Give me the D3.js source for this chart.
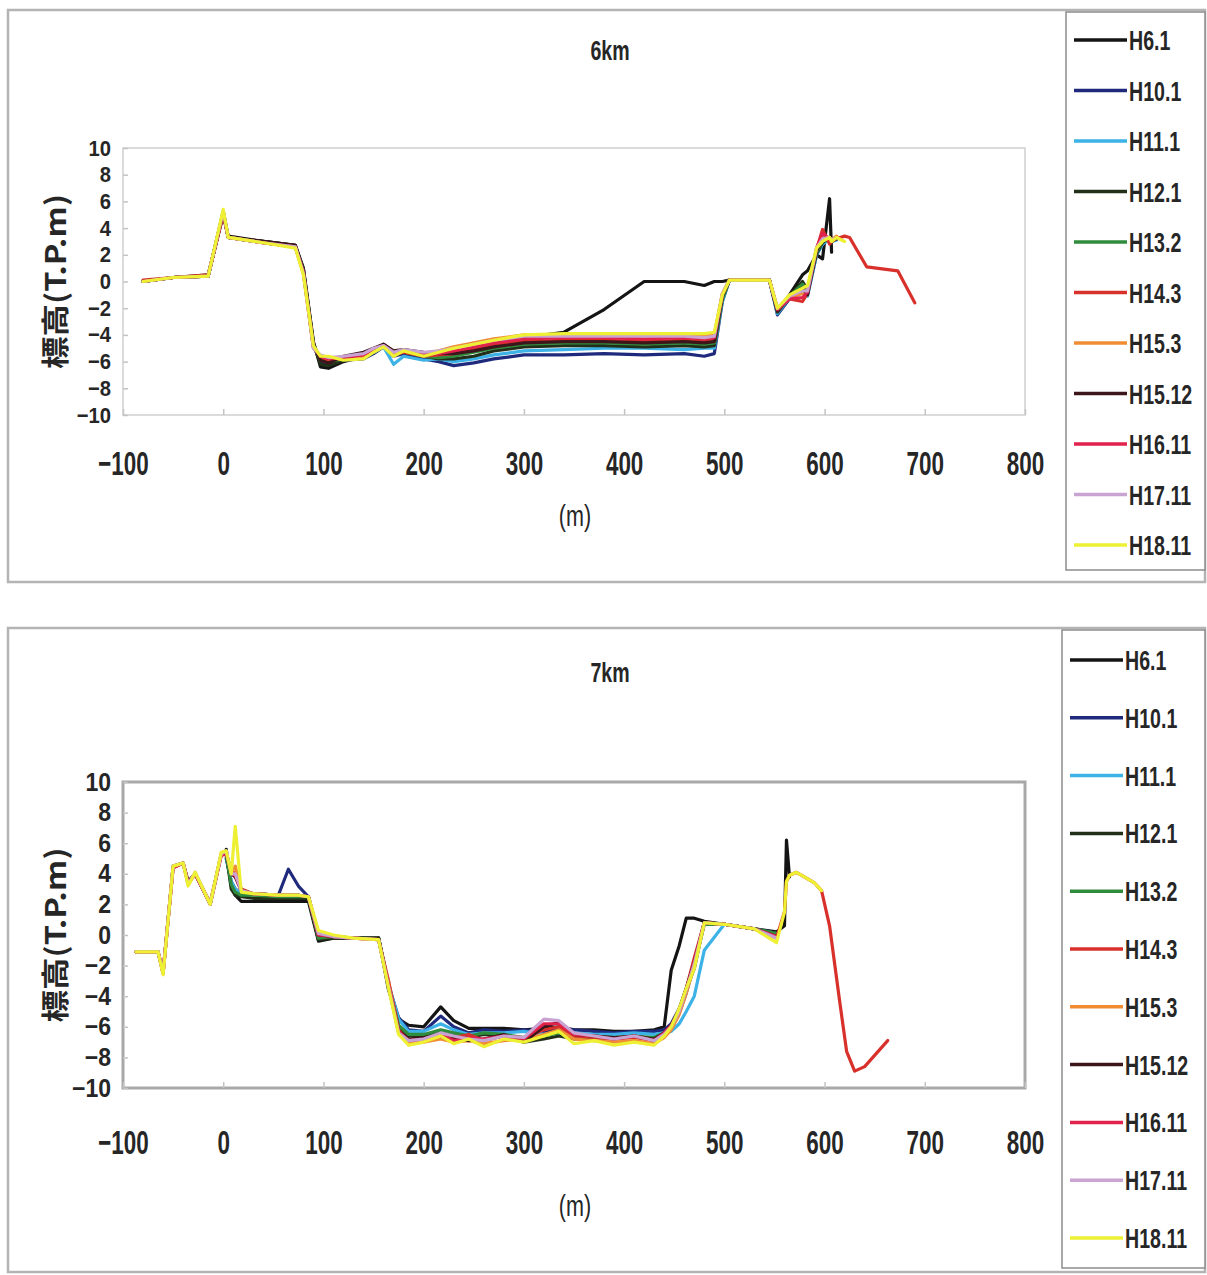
<!DOCTYPE html>
<html>
<head>
<meta charset="utf-8">
<script src="https://cdn.jsdelivr.net/npm/d3@7"></script>
<style>
  body { margin: 0; background: #fff; }
  svg text { font-family: "Liberation Sans", Arial, sans-serif; fill: #262626; }
</style>
</head>
<body>
<script>
// survey names and colours (legend order)
var surveys = ["H6.1", "H10.1", "H11.1", "H12.1", "H13.2", "H14.3", "H15.3", "H15.12", "H16.11", "H17.11", "H18.11"];
var surveyColors = ["#141414", "#1f2a7c", "#3cb2e6", "#22301a", "#2f8c3c", "#d8302a", "#f08c34", "#3c161a", "#e0224c", "#c9a3d2", "#eef034"];

var xTicks = [-100, 0, 100, 200, 300, 400, 500, 600, 700, 800];
var yTicks = [-10, -8, -6, -4, -2, 0, 2, 4, 6, 8, 10];

var _ = null;

// 6km cross section: distance (m) and elevation (T.P.m) per survey
var dist6km = [-80, -50, -15, 0, 5, 40, 72, 80, 90, 97, 105, 120, 140, 150, 160, 170, 180, 200, 215, 230,
  250, 270, 300, 340, 380, 420, 460, 480, 490, 498, 505, 545, 553, 565, 578, 583, 592, 598, 605, 607,
  612, 620, 625, 642, 673, 690];

var elev6km = [
  [0.0, 0.3, 0.5, 5.0, 3.4, 3.0, 2.7, 1.0, -4.5, -6.4, -6.5, -6.0, -5.6, -5.2, -4.7, -5.3, -5.3, -5.5, -5.3, -5.2,
   -4.9, -4.5, -4.2, -3.8, -2.1, 0.0, 0.0, -0.3, 0.0, 0.0, 0.1, 0.1, -2.3, -1.0, 0.5, 0.8, 2.0, 1.7, 6.2, 2.2],
  [0.0, 0.3, 0.4, 5.2, 3.3, 2.9, 2.6, 0.8, -4.8, -6.0, -6.2, -5.9, -5.8, -5.4, -4.9, -5.6, -5.4, -5.8, -6.0, -6.3,
   -6.1, -5.8, -5.5, -5.5, -5.4, -5.5, -5.4, -5.6, -5.4, -1.5, 0.1, 0.1, -2.5, -1.3, -0.2, -1.0, 2.0, 2.8, 3.2, 3.0, 3.2],
  [0.0, 0.3, 0.4, 5.2, 3.3, 2.9, 2.6, 0.8, -4.8, -5.8, -6.0, -5.8, -5.7, -5.3, -4.9, -6.2, -5.6, -5.9, -5.8, -6.0,
   -5.8, -5.5, -5.2, -5.1, -5.0, -5.0, -5.1, -5.0, -5.0, -1.5, 0.1, 0.1, -2.4, -1.2, -0.3, -1.1, 2.0, 2.8, 3.2, 3.0, 3.1],
  [0.0, 0.3, 0.4, 5.2, 3.3, 3.0, 2.7, 0.9, -4.6, -6.2, -6.3, -5.9, -5.6, -5.2, -4.8, -5.3, -5.3, -5.6, -5.8, -5.8,
   -5.6, -5.2, -4.9, -4.8, -4.8, -4.9, -4.8, -4.9, -4.8, -1.3, 0.1, 0.1, -2.3, -1.1, 0.0, -0.6, 2.1, 2.9, 3.3, 3.0, 3.2],
  [0.0, 0.3, 0.4, 5.2, 3.3, 2.9, 2.6, 0.8, -4.7, -5.9, -6.0, -5.8, -5.6, -5.2, -4.8, -5.4, -5.3, -5.6, -5.7, -5.6,
   -5.3, -5.0, -4.7, -4.6, -4.6, -4.7, -4.6, -4.7, -4.6, -1.3, 0.1, 0.1, -2.2, -1.1, -0.2, -0.8, 2.2, 3.0, 3.3, 3.1, 3.2],
  [0.1, 0.3, 0.5, 5.0, 3.3, 2.9, 2.6, 0.7, -4.9, -5.7, -5.9, -5.8, -5.7, -5.2, -4.8, -5.5, -5.3, -5.6, -5.5, -5.4,
   -5.1, -4.8, -4.5, -4.4, -4.4, -4.5, -4.4, -4.5, -4.4, -1.0, 0.1, 0.1, -2.0, -1.3, -1.5, -0.9, 2.4, 3.9, 2.8, 3.0,
   3.2, 3.4, 3.3, 1.1, 0.8, -1.6],
  [0.0, 0.3, 0.4, 5.2, 3.3, 2.9, 2.6, 0.6, -5.0, -5.6, -5.8, -5.8, -5.6, -5.1, -4.8, -5.5, -5.2, -5.5, -5.2, -4.9,
   -4.6, -4.3, -4.0, -4.0, -4.0, -4.0, -4.0, -4.1, -4.0, -0.9, 0.1, 0.1, -2.1, -1.2, -0.9, -0.6, 2.4, 3.2, 3.3, 3.1, 3.4],
  [0.0, 0.3, 0.4, 5.2, 3.3, 3.0, 2.7, 0.8, -4.7, -5.9, -6.1, -5.6, -5.3, -5.0, -4.7, -5.2, -5.1, -5.3, -5.4, -5.4,
   -5.2, -4.9, -4.6, -4.5, -4.5, -4.6, -4.5, -4.6, -4.5, -1.1, 0.1, 0.1, -2.2, -1.1, -0.5, -1.0, 2.3, 3.1, 3.3, 3.1, 3.2],
  [0.0, 0.3, 0.4, 5.2, 3.3, 2.9, 2.6, 0.7, -4.9, -5.6, -5.8, -5.7, -5.5, -5.1, -4.8, -5.4, -5.2, -5.5, -5.4, -5.2,
   -4.9, -4.6, -4.3, -4.2, -4.2, -4.3, -4.2, -4.3, -4.2, -1.0, 0.1, 0.1, -2.1, -1.3, -1.2, -0.8, 2.5, 3.6, 3.2, 3.1, 3.3],
  [0.0, 0.3, 0.4, 5.3, 3.3, 2.9, 2.6, 0.6, -5.0, -5.5, -5.7, -5.6, -5.4, -5.0, -4.8, -5.3, -5.1, -5.3, -5.2, -5.0,
   -4.7, -4.4, -4.1, -4.1, -4.1, -4.1, -4.1, -4.2, -4.1, -0.9, 0.1, 0.1, -2.0, -1.1, -0.7, -0.7, 2.5, 3.2, 3.3, 3.1, 3.3],
  [0.0, 0.3, 0.4, 5.4, 3.3, 2.9, 2.5, 0.5, -4.8, -5.6, -5.6, -5.9, -5.8, -5.3, -4.9, -5.6, -5.2, -5.6, -5.3, -5.0,
   -4.7, -4.4, -4.0, -3.9, -3.9, -3.9, -3.9, -3.9, -3.8, -1.0, 0.1, 0.1, -2.0, -1.0, -0.5, -0.3, 2.5, 3.0, 3.3, 3.0,
   3.3, 3.0]
];

// 7km cross section
var dist7km = [-87, -65, -60, -50, -40, -35, -28, -13, -2, 3, 8, 12, 18, 30, 55, 65, 75, 85, 95, 110,
  130, 155, 165, 175, 185, 200, 217, 230, 245, 260, 280, 300, 320, 335, 350, 370, 390, 410, 430, 440,
  447, 455, 462, 470, 480, 500, 530, 552, 560, 562, 565, 572, 590, 597, 605, 615, 622, 630, 640, 663];

var elev7km = [
  [_, _, _, _, _, _, _, _, _, 5.6, 3.2, 2.6, 2.2, 2.2, 2.2, 2.2, 2.2, 2.2, -0.4, -0.2,
   -0.2, -0.2, -3.6, -5.5, -5.9, -6.0, -4.7, -5.6, -6.1, -6.1, -6.1, -6.2, -6.1, -6.0, -6.2, -6.2, -6.3, -6.3, -6.2, -6.0,
   -2.3, -0.7, 1.1, 1.1, 0.9, 0.7, 0.4, 0.2, 0.6, 6.2, 3.8],
  [_, _, _, _, _, _, _, _, _, 5.0, 3.5, 3.0, 2.7, 2.7, 2.6, 4.3, 3.2, 2.5, -0.1, -0.1,
   -0.2, -0.2, -3.3, -5.4, -6.2, -6.3, -5.3, -6.0, -6.4, -6.2, -6.3, -6.2, -6.3, -6.2, -6.2, -6.3, -6.4, -6.3, -6.3, -6.2,
   -5.8, -4.8, -3.5, -2.2, 0.8, 0.7, 0.4, 0.1],
  [_, _, _, _, _, _, _, _, _, 5.0, 3.5, 3.0, 2.7, 2.7, 2.6, 2.6, 2.6, 2.5, -0.1, -0.1,
   -0.2, -0.2, -3.2, -5.5, -6.3, -6.3, -5.8, -6.2, -6.5, -6.4, -6.4, -6.3, -6.5, -6.4, -6.4, -6.5, -6.5, -6.4, -6.5, -6.4,
   -6.3, -5.8, -5.0, -4.0, -1.0, 0.7, 0.4, 0.1],
  [_, _, _, _, _, _, _, _, _, 5.3, 3.0, 2.6, 2.5, 2.4, 2.4, 2.4, 2.4, 2.4, -0.3, -0.2,
   -0.2, -0.2, -3.4, -6.0, -6.6, -6.6, -6.3, -6.5, -6.7, -6.5, -6.6, -7.0, -6.8, -6.6, -6.8, -6.7, -6.8, -6.6, -6.8, -6.5,
   -6.0, -5.0, -3.6, -1.8, 0.8, 0.7, 0.4, 0.1],
  [_, _, _, _, _, _, _, _, _, 5.2, 3.3, 2.8, 2.6, 2.6, 2.5, 2.5, 2.5, 2.5, -0.2, -0.1,
   -0.2, -0.2, -3.3, -5.9, -6.5, -6.5, -6.2, -6.4, -6.6, -6.4, -6.5, -6.7, -6.6, -6.4, -6.6, -6.6, -6.7, -6.6, -6.7, -6.4,
   -6.0, -5.1, -3.8, -2.0, 0.7, 0.7, 0.4, 0.1],
  [-1.1, -1.1, -2.4, 4.4, 4.7, 3.4, 4.0, 2.1, 5.2, 5.3, 4.2, 4.0, 3.0, 2.7, 2.6, 2.6, 2.6, 2.5, 0.0, -0.1,
   -0.2, -0.3, -3.0, -6.2, -6.9, -6.8, -6.6, -6.7, -6.5, -6.9, -6.6, -6.7, -6.2, -6.0, -6.6, -6.7, -6.8, -6.7, -6.9, -6.5,
   -6.0, -5.0, -3.5, -1.5, 0.8, 0.7, 0.4, -0.2, 1.5, 3.5, 3.9, 4.1, 3.4, 2.9, 0.6, -4.3, -7.6, -8.9, -8.6, -6.9],
  [-1.1, -1.1, -2.5, 4.5, 4.7, 3.3, 4.0, 2.0, 5.3, 5.4, 4.1, 4.5, 2.9, 2.7, 2.6, 2.6, 2.6, 2.5, 0.1, -0.1,
   -0.2, -0.3, -3.2, -6.4, -7.1, -7.0, -6.8, -7.0, -6.9, -7.1, -6.9, -6.8, -6.5, -6.2, -6.8, -6.9, -7.0, -6.9, -7.1, -6.7,
   -6.2, -5.2, -3.8, -2.0, 0.8, 0.7, 0.4, -0.2],
  [-1.1, -1.1, -2.5, 4.5, 4.7, 3.5, 4.0, 2.0, 5.3, 5.4, 4.0, 3.8, 2.9, 2.7, 2.6, 2.6, 2.6, 2.5, 0.0, -0.1,
   -0.2, -0.2, -3.4, -6.3, -6.8, -6.7, -6.6, -6.8, -6.9, -6.8, -6.5, -7.0, -6.0, -5.7, -6.5, -6.6, -6.7, -6.6, -6.8, -6.4,
   -5.9, -4.9, -3.5, -1.8, 0.8, 0.7, 0.4, -0.1],
  [-1.1, -1.1, -2.5, 4.4, 4.7, 3.4, 4.0, 2.0, 5.2, 5.4, 4.0, 3.9, 2.9, 2.7, 2.6, 2.6, 2.6, 2.5, 0.0, -0.1,
   -0.2, -0.3, -3.3, -6.3, -6.9, -6.8, -6.5, -6.9, -6.7, -6.8, -6.6, -6.8, -5.8, -5.8, -6.5, -6.6, -6.8, -6.6, -6.9, -6.4,
   -5.9, -5.0, -3.6, -1.8, 0.8, 0.7, 0.4, -0.1],
  [-1.1, -1.1, -2.5, 4.5, 4.7, 3.3, 4.1, 2.0, 5.3, 5.5, 4.0, 4.0, 2.9, 2.7, 2.6, 2.6, 2.6, 2.5, 0.1, -0.1,
   -0.2, -0.3, -3.4, -6.4, -6.9, -6.8, -6.4, -6.6, -6.8, -6.9, -6.6, -6.7, -5.5, -5.6, -6.4, -6.6, -6.8, -6.6, -6.9, -6.5,
   -6.0, -5.0, -3.6, -1.9, 0.8, 0.7, 0.4, -0.2],
  [-1.1, -1.1, -2.6, 4.5, 4.7, 3.2, 4.1, 2.0, 5.4, 5.5, 4.0, 7.1, 2.8, 2.7, 2.6, 2.6, 2.6, 2.5, 0.3, 0.0,
   -0.2, -0.3, -3.5, -6.5, -7.2, -7.0, -6.6, -7.1, -6.8, -7.3, -6.8, -7.0, -6.6, -6.3, -7.1, -6.9, -7.2, -7.0, -7.2, -6.6,
   -6.0, -4.8, -3.5, -2.2, 0.8, 0.7, 0.4, -0.5, 1.5, 3.5, 3.9, 4.1, 3.4, 2.9]
];

var W = 1207, H = 1275;

var svg = d3.select("body").append("svg")
    .attr("width", W)
    .attr("height", H);

var panels = [
  {title: "6km", dist: dist6km, elev: elev6km,
   frame: {x: 8, y: 10, w: 1197, h: 572},
   plot: {left: 123, right: 1025, top: 148, bottom: 415, stroke: "#cfcfcf", sw: 1.5},
   titleY: 50, tickLabelY: 463, unitY: 515, yTickFont: 22,
   legend: {x: 1066, y: 12, w: 139, h: 558, first: 40, step: 50.5}},
  {title: "7km", dist: dist7km, elev: elev7km,
   frame: {x: 8, y: 628, w: 1197, h: 644},
   plot: {left: 123, right: 1025, top: 782, bottom: 1088, stroke: "#a8a8a8", sw: 3},
   titleY: 672, tickLabelY: 1142, unitY: 1205, yTickFont: 25,
   legend: {x: 1062, y: 630, w: 143, h: 638, first: 660, step: 57.8}}
];

panels.forEach(drawPanel);

function drawPanel(p) {
  var g = svg.append("g");

  // outer frame
  g.append("rect")
      .attr("x", p.frame.x).attr("y", p.frame.y)
      .attr("width", p.frame.w).attr("height", p.frame.h)
      .attr("fill", "none").attr("stroke", "#b4b4b4").attr("stroke-width", 2.5);

  var x = d3.scaleLinear().domain([-100, 800]).range([p.plot.left, p.plot.right]);
  var y = d3.scaleLinear().domain([-10, 10]).range([p.plot.bottom, p.plot.top]);

  // plot area border
  g.append("rect")
      .attr("x", p.plot.left).attr("y", p.plot.top)
      .attr("width", p.plot.right - p.plot.left).attr("height", p.plot.bottom - p.plot.top)
      .attr("fill", "none").attr("stroke", p.plot.stroke).attr("stroke-width", p.plot.sw);

  // faint inner tick marks
  var tickX = g.append("g")
      .attr("transform", "translate(0," + p.plot.bottom + ")")
      .call(d3.axisBottom(x).tickValues(xTicks).tickSize(-6).tickFormat(""));
  var tickY = g.append("g")
      .attr("transform", "translate(" + p.plot.left + ",0)")
      .call(d3.axisLeft(y).tickValues(yTicks).tickSize(-5).tickFormat(""));
  [tickX, tickY].forEach(function(a) {
    a.select(".domain").remove();
    a.selectAll("line").attr("stroke", "#c4c4c4").attr("stroke-width", 1.5);
  });

  // x tick labels (narrow, like the scanned original)
  var xLab = g.append("g")
      .attr("transform", "translate(0," + p.tickLabelY + ")")
      .call(d3.axisBottom(x).tickValues(xTicks).tickSize(0).tickPadding(0));
  xLab.select(".domain").remove();
  xLab.selectAll("text")
      .attr("y", 0).attr("dy", "0.36em")
      .attr("font-size", 34).attr("font-weight", "bold")
      .attr("fill", "#2a2a2a")
      .attr("transform", "scale(0.66,1)");

  // y tick labels
  var yLab = g.append("g")
      .attr("transform", "translate(111,0)")
      .call(d3.axisLeft(y).tickValues(yTicks).tickSize(0).tickPadding(0));
  yLab.select(".domain").remove();
  yLab.selectAll("text")
      .attr("x", 0)
      .attr("font-size", p.yTickFont).attr("font-weight", "bold")
      .attr("fill", "#2a2a2a")
      .attr("transform", "scale(0.92,1)");

  // axis titles
  var midY = (p.plot.top + p.plot.bottom) / 2;
  g.append("text")
      .attr("transform", "translate(56," + midY + ") rotate(-90)")
      .attr("text-anchor", "middle").attr("dy", "0.35em")
      .attr("font-size", 28).attr("font-weight", "bold")
      .style("font-family", "'Noto Sans CJK JP', sans-serif")
      .attr("textLength", 175).attr("lengthAdjust", "spacingAndGlyphs")
      .text("標高(T.P.m)");

  g.append("text")
      .attr("transform", "translate(575," + p.unitY + ") scale(0.72,1)")
      .attr("text-anchor", "middle").attr("dy", "0.35em")
      .attr("font-size", 30)
      .text("(m)");

  g.append("text")
      .attr("transform", "translate(610," + p.titleY + ") scale(0.7,1)")
      .attr("text-anchor", "middle").attr("dy", "0.35em")
      .attr("font-size", 28).attr("font-weight", "bold")
      .text(p.title);

  // profile lines
  var line = d3.line()
      .defined(function(d) { return d[1] != null; })
      .x(function(d) { return x(d[0]); })
      .y(function(d) { return y(d[1]); });

  p.elev.forEach(function(vals, i) {
    var pts = p.dist.map(function(dx, j) { return [dx, vals[j]]; });
    g.append("path")
        .datum(pts)
        .attr("d", line)
        .attr("fill", "none")
        .attr("stroke", surveyColors[i])
        .attr("stroke-width", 3.2)
        .attr("stroke-linejoin", "round")
        .attr("stroke-linecap", "round");
  });

  // legend box
  var L = p.legend;
  g.append("rect")
      .attr("x", L.x).attr("y", L.y)
      .attr("width", L.w).attr("height", L.h)
      .attr("fill", "#fff").attr("stroke", "#8c8c8c").attr("stroke-width", 1.5);

  var item = g.selectAll(".leg")
      .data(surveys).enter()
      .append("g")
        .attr("transform", function(d, i) { return "translate(0," + (L.first + i * L.step) + ")"; });

  item.append("line")
      .attr("x1", L.x + 8).attr("x2", L.x + 61)
      .attr("stroke", function(d, i) { return surveyColors[i]; })
      .attr("stroke-width", 3.5);

  item.append("text")
      .attr("transform", "translate(" + (L.x + 63) + ",0) scale(0.7,1)")
      .attr("dy", "0.36em")
      .attr("font-size", 28).attr("font-weight", "bold")
      .attr("fill", "#2a2a2a")
      .text(function(d) { return d; });
}
</script>
</body>
</html>
